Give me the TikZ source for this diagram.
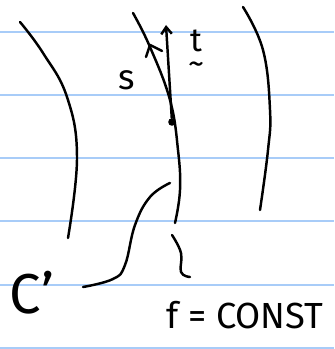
\documentclass[tikz,border=0pt]{standalone}
\usepackage{fontspec}
\setmainfont{Fira Sans}
\usetikzlibrary{arrows.meta}
\definecolor{ruleBlue}{HTML}{A8CCF8}

\begin{document}
\begin{tikzpicture}[
  x=0.03cm, y=-0.03cm,
  pen/.style={line width=2.1pt, line cap=round, line join=round, black},
  rule/.style={line width=1.1pt, ruleBlue},
  lbl/.style={inner sep=0pt, font=\fontsize{28}{28}\selectfont},
  arr/.style={pen, -{Straight Barb[length=6pt,width=9pt]}},
]
\useasboundingbox (0,0) rectangle (334,349);

% === Ruled paper ===
\foreach \y in {32,95,158,221,285,348}
  \draw[rule] (0,\y) -- (334,\y);

% === Level curves f = const ===
\draw[pen] plot[smooth, tension=0.7] coordinates {(20,22) (43,53) (67,97) (77,157) (68,238)};
\draw[pen] plot[smooth, tension=0.7] coordinates {(133,13) (150,47) (170,100) (178,150) (180,190) (175,223)};
\draw[pen] plot[smooth, tension=0.7] coordinates {(243,7) (263,50) (270,110) (268,150) (260,210)};

% direction mark on the middle curve
\draw[pen] (146,57) -- (150,45) -- (162,51);

% === Point and tangent t ===
\node[circle, fill=black, inner sep=0pt, minimum size=6.5pt] (p) at (172,122) {};
\coordinate (ttip) at (166,25);
\draw[arr] (p) -- (ttip);
\node[lbl, align=center] (tlabel) at (196,52) {t\\[-8pt]\char`\~};
\node[lbl, font=\fontsize{30}{30}\selectfont] (slabel) at (127,80) {s};

% === Curve C' ===
\draw[pen] plot[smooth, tension=0.7] coordinates {(170,183) (150,197) (135,225) (125,265) (113,279) (83,287)};
\node[lbl, font=\fontsize{48}{48}\selectfont] (Clabel) at (32,293) {C'};

% === Label f = CONST ===
\node[lbl, font=\fontsize{31}{31}\selectfont] (flabel) at (245,315) {f = CONST};
\coordinate (fcurve) at (172,235);
\draw[pen] plot[smooth, tension=0.7] coordinates {(fcurve) (181,253) (181,272) (190,277)};

\end{tikzpicture}
\end{document}
